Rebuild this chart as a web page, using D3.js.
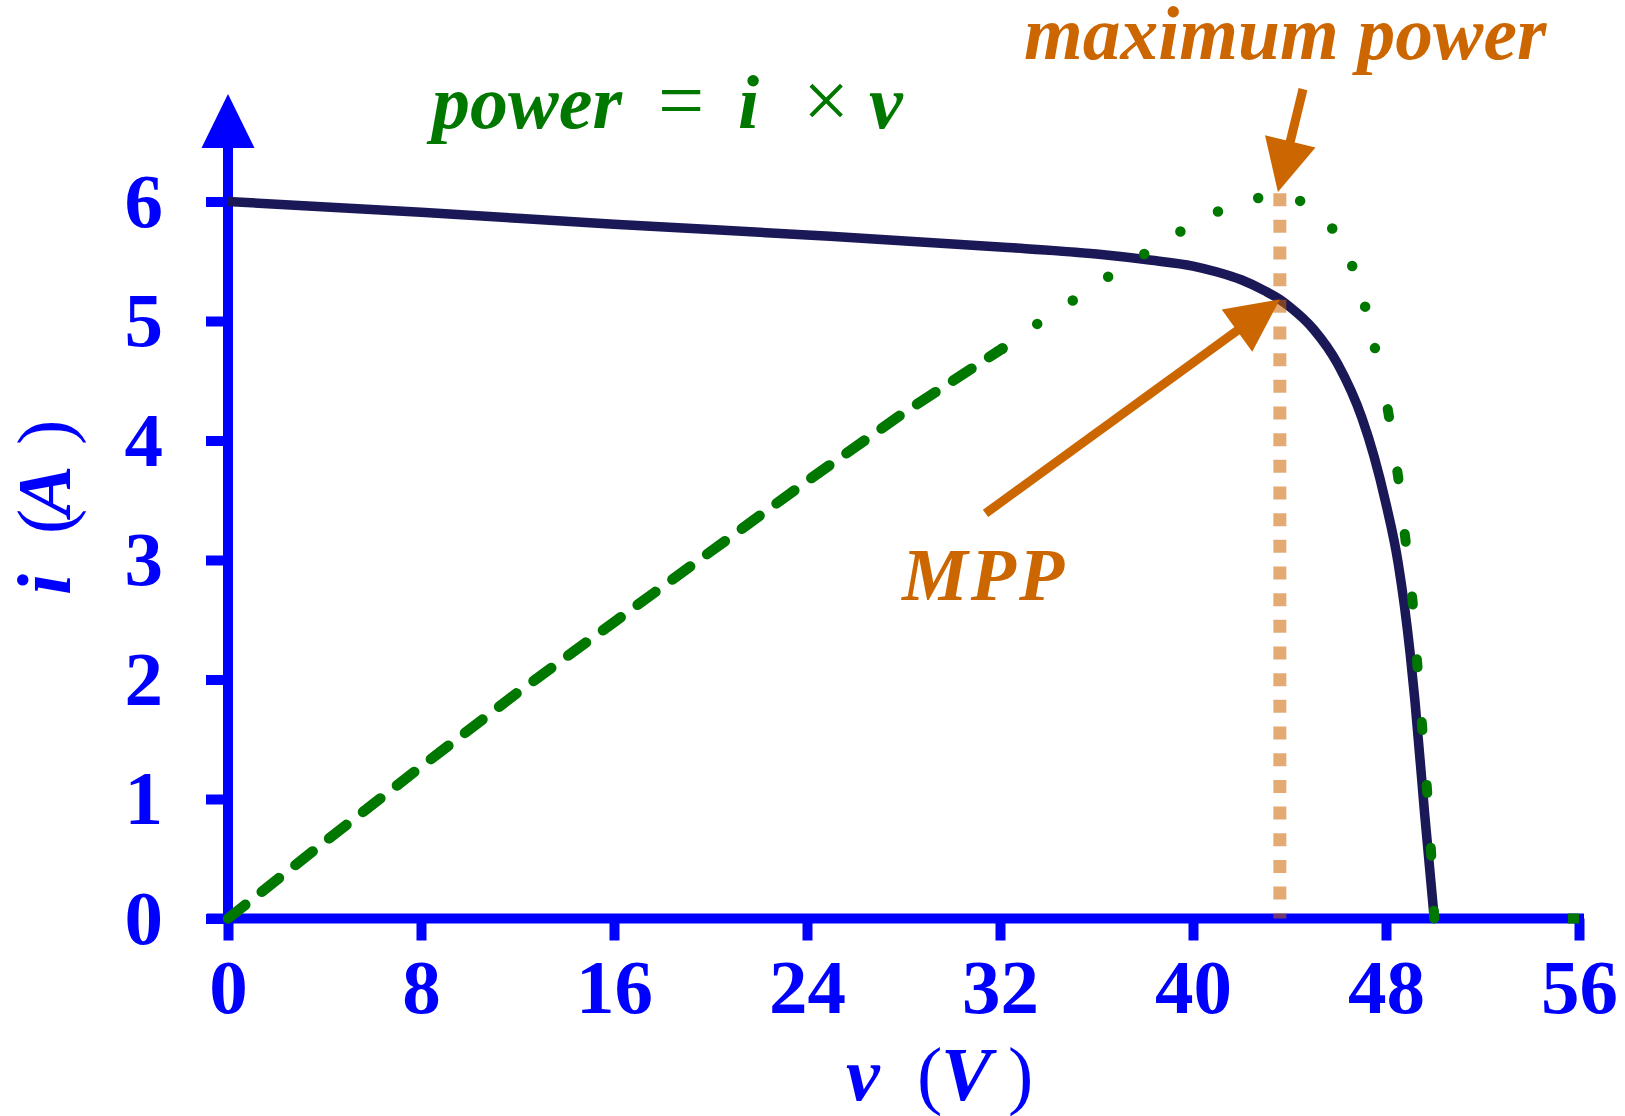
<!DOCTYPE html>
<html>
<head>
<meta charset="utf-8">
<script src="https://cdn.jsdelivr.net/npm/d3@7"></script>
<style>
  html, body { margin: 0; padding: 0; background: #fff; overflow: hidden; }
</style>
</head>
<body>
<div class="canvas"></div>
<script>
// i-v curve of the panel (volts, amps)
const voltage = [0, 8, 16, 24, 32, 36, 38.2, 40, 41, 42, 43, 43.6, 44, 45, 46, 47, 47.5, 48, 48.5, 49, 49.2, 49.6, 50];
const current = [6.00, 5.91, 5.81, 5.72, 5.62, 5.56, 5.51, 5.46, 5.41, 5.345, 5.25, 5.18, 5.12, 4.93, 4.64, 4.19, 3.87, 3.47, 2.98, 2.22, 1.82, 0.88, 0.00];

// power curve, drawn on the amp axis, in the pieces the plot styles differently
const powerRiseV = [0, 4, 8, 12, 16, 20, 24, 28, 32.1];
const powerRiseA = [0, 0.64, 1.27, 1.89, 2.48, 3.07, 3.66, 4.23, 4.77];
const powerTopV = [32.1, 33.5, 35.0, 36.4, 37.9, 39.4, 40.95, 42.6, 44.35, 45.7, 46.55, 47.1, 47.5, 47.9];
const powerTopA = [4.77, 4.97, 5.17, 5.36, 5.55, 5.74, 5.91, 6.03, 6.02, 5.80, 5.49, 5.15, 4.81, 4.46];
const powerFallV = [47.9, 48.1, 48.5, 48.8, 49.1, 49.3, 49.5, 49.7, 49.87, 50.0];
const powerFallA = [4.46, 4.23, 3.70, 3.18, 2.66, 2.12, 1.60, 1.08, 0.55, 0.0];
const powerTailV = [50, 56];
const powerTailA = [0, 0];

const xTicks = [0, 8, 16, 24, 32, 40, 48, 56];
const yTicks = [0, 1, 2, 3, 4, 5, 6];

// maximum power point
const mppV = 43.6;
const mppI = 5.18;
const maxPowerTop = 6.07;

const W = 1625, H = 1116;
const BLUE = "#0000ff", NAVY = "#1b1858", GREEN = "#007800", ORANGE = "#cc6600";
const serif = "'Liberation Serif', 'Times New Roman', Times, serif";

const svg = d3.select(".canvas")
              .append("svg")
              .attr("width", W)
              .attr("height", H);

svg.append("rect").attr("width", W).attr("height", H).attr("fill", "#fff");

const x = d3.scaleLinear().domain([0, 56]).range([228, 1579]);
const y = d3.scaleLinear().domain([0, 6]).range([918.5, 201.5]);

const zip = (a, b) => a.map((v, i) => [v, b[i]]);

// axis lines + arrow head on the current axis
svg.append("line")
   .attr("x1", x(0) - 21).attr("x2", x(56) + 5)
   .attr("y1", y(0)).attr("y2", y(0))
   .attr("stroke", BLUE).attr("stroke-width", 10);
svg.append("line")
   .attr("x1", x(0)).attr("x2", x(0))
   .attr("y1", y(0) + 5).attr("y2", 147)
   .attr("stroke", BLUE).attr("stroke-width", 10);
svg.append("path")
   .attr("d", `M${x(0)},94 L${x(0) - 26.5},148 L${x(0) + 26.5},148 Z`)
   .attr("fill", BLUE);

// ticks and tick labels
const xAxis = svg.append("g")
   .attr("transform", `translate(0,${y(0)})`)
   .call(d3.axisBottom(x).tickValues(xTicks).tickFormat(d3.format("d")).tickSize(22).tickPadding(17.5).tickSizeOuter(0))
   .attr("color", BLUE)
   .attr("font-size", 77)
   .attr("font-family", serif)
   .attr("font-weight", "bold");
xAxis.select(".domain").remove();
xAxis.selectAll(".tick line").attr("stroke-width", 10);

const yAxis = svg.append("g")
   .attr("transform", `translate(${x(0)},0)`)
   .call(d3.axisLeft(y).tickValues(yTicks).tickFormat(d3.format("d")).tickSize(22).tickPadding(43).tickSizeOuter(0))
   .attr("color", BLUE)
   .attr("font-size", 77)
   .attr("font-family", serif)
   .attr("font-weight", "bold");
yAxis.select(".domain").remove();
yAxis.selectAll(".tick line").attr("stroke-width", 10);

// axis titles
const xTitle = svg.append("text")
   .attr("y", 1100)
   .attr("fill", BLUE)
   .attr("font-family", serif)
   .attr("font-size", 76);
xTitle.append("tspan").attr("x", 846).attr("font-weight", "bold").attr("font-style", "italic").text("v");
xTitle.append("tspan").attr("x", 917).text("(");
xTitle.append("tspan").attr("x", 941).attr("font-weight", "bold").attr("font-style", "italic").text("V");
xTitle.append("tspan").attr("x", 1008).text(")");

const yTitle = svg.append("text")
   .attr("transform", "translate(70,0) rotate(-90)")
   .attr("fill", BLUE)
   .attr("font-family", serif)
   .attr("font-size", 76);
yTitle.append("tspan").attr("x", -595).attr("font-weight", "bold").attr("font-style", "italic").text("i");
yTitle.append("tspan").attr("x", -534).text("(");
yTitle.append("tspan").attr("x", -516).attr("font-weight", "bold").attr("font-style", "italic").text("A");
yTitle.append("tspan").attr("x", -445).text(")");

// i-v curve
const smooth = d3.line().x(d => x(d[0])).y(d => y(d[1])).curve(d3.curveMonotoneX);
const straight = d3.line().x(d => x(d[0])).y(d => y(d[1]));

svg.append("path")
   .datum(zip(voltage, current))
   .attr("d", smooth)
   .attr("fill", "none")
   .attr("stroke", NAVY)
   .attr("stroke-width", 9.5);

// power curve
svg.append("path")
   .datum(zip(powerRiseV, powerRiseA))
   .attr("d", straight)
   .attr("fill", "none")
   .attr("stroke", GREEN)
   .attr("stroke-width", 10.5)
   .attr("stroke-linecap", "round")
   .attr("stroke-dasharray", "22 21");

svg.append("path")
   .datum(zip(powerTopV, powerTopA))
   .attr("d", straight)
   .attr("fill", "none")
   .attr("stroke", GREEN)
   .attr("stroke-width", 10.5)
   .attr("stroke-linecap", "round")
   .attr("stroke-dasharray", "0 42.6");

const fall = zip(powerFallV, powerFallA);
const firstGap = Math.hypot(x(fall[1][0]) - x(fall[0][0]), y(fall[1][1]) - y(fall[0][1])) - 4;
svg.append("path")
   .datum(fall)
   .attr("d", straight)
   .attr("fill", "none")
   .attr("stroke", GREEN)
   .attr("stroke-width", 10)
   .attr("stroke-linecap", "round")
   .attr("stroke-dasharray", "8 55")
   .attr("stroke-dashoffset", 63 - firstGap);

const tail = svg.append("path")
   .datum(zip(powerTailV, powerTailA))
   .attr("d", straight)
   .attr("fill", "none")
   .attr("stroke", GREEN)
   .attr("stroke-width", 10);
const tailLen = tail.node().getTotalLength();
tail.attr("stroke-dasharray", `0 ${tailLen - 11} 11 0`);

// arrows
function arrow(from, to, headLen, headHalf, width) {
  const x0 = x(from[0]), y0 = y(from[1]), x1 = x(to[0]), y1 = y(to[1]);
  const dx = x1 - x0, dy = y1 - y0, L = Math.hypot(dx, dy);
  const ux = dx / L, uy = dy / L;
  const bx = x1 - ux * headLen, by = y1 - uy * headLen;
  svg.append("line")
     .attr("x1", x0).attr("y1", y0)
     .attr("x2", bx + ux * 4).attr("y2", by + uy * 4)
     .attr("stroke", ORANGE).attr("stroke-width", width);
  svg.append("path")
     .attr("d", `M${x1},${y1} L${bx - uy * headHalf},${by + ux * headHalf} L${bx + uy * headHalf},${by - ux * headHalf} Z`)
     .attr("fill", ORANGE);
}
arrow([31.4, 3.39], [mppV, mppI], 53, 26, 9);
arrow([44.56, 6.94], [43.52, 6.08], 52, 26, 9);

// dotted marker at the maximum power voltage
svg.append("line")
   .attr("x1", x(mppV)).attr("x2", x(mppV))
   .attr("y1", y(maxPowerTop)).attr("y2", y(0))
   .attr("stroke", ORANGE)
   .attr("stroke-opacity", 0.55)
   .attr("stroke-width", 13)
   .attr("stroke-dasharray", "13 13.67");

// annotation text
const title = svg.append("text")
   .attr("y", 128)
   .attr("fill", GREEN)
   .attr("font-family", serif)
   .attr("font-size", 76);
title.append("tspan").attr("x", 432).attr("font-weight", "bold").attr("font-style", "italic").text("power");
title.append("tspan").attr("x", 658).attr("font-size", 82).text("=");
title.append("tspan").attr("x", 738).attr("font-weight", "bold").attr("font-style", "italic").text("i");
title.append("tspan").attr("x", 803).attr("font-size", 82).text("×");
title.append("tspan").attr("x", 869).attr("font-weight", "bold").attr("font-style", "italic").text("v");

svg.append("text")
   .attr("x", 1024).attr("y", 59)
   .attr("fill", ORANGE)
   .attr("font-family", serif)
   .attr("font-size", 75.5)
   .attr("font-weight", "bold")
   .attr("font-style", "italic")
   .text("maximum power");

svg.append("text")
   .attr("x", 902).attr("y", 600)
   .attr("fill", ORANGE)
   .attr("font-family", serif)
   .attr("font-size", 74)
   .attr("letter-spacing", 3)
   .attr("font-weight", "bold")
   .attr("font-style", "italic")
   .text("MPP");
</script>
</body>
</html>
